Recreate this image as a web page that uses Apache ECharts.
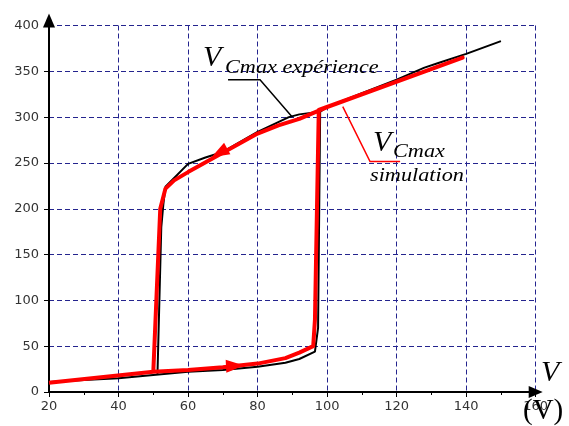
<!DOCTYPE html>
<html>
<head>
<meta charset="utf-8">
<script src="https://cdn.jsdelivr.net/npm/echarts@6/dist/echarts.min.js"></script>
<style>html,body{margin:0;padding:0;background:#fff}#id1{width:569px;height:426px}</style>
</head>
<body>
<div id="id1"></div>
<script>
// experience (black) : montee puis saut, et branche haute
var expLowV = [20, 30, 40, 50, 60, 70, 80, 88, 92, 96.5, 97.4, 98];
var expLowY = [11, 13, 15, 18.5, 22, 24, 27.5, 32, 36, 44, 70, 306];
var expUpV = [51.2, 52.3, 52.9, 53.5, 60, 65, 70, 80, 89, 92, 98, 100, 110, 120, 128, 132, 140, 150];
var expUpY = [19, 180, 205, 224, 249, 256, 262, 284, 300, 303, 306, 311, 326, 341, 354, 359, 369, 383];

// simulation (red), boucle complete dans l'ordre
var simV = [20, 50, 60, 70, 80, 88, 92, 96, 96.5, 97.6, 139, 100, 92, 86, 80, 70, 60, 56, 53.5, 52, 50];
var simY = [10, 22, 24, 27, 31, 37, 43, 50, 79, 308, 365, 311, 298, 291, 282, 261, 240, 231, 222, 200, 22];

// fleches sur la courbe simulee
var arrowV = [73.5, 69];
var arrowY = [28.5, 261];
var arrowRot = [-87, 119];

function pairs(a, b){
	var out = [];
	for (var i = 0; i < a.length; i++) out.push([a[i], b[i]]);
	return out;
}

var charts = echarts.init(document.getElementById('id1'));
var axisLbl = {fontFamily: 'DejaVu Sans', fontSize: 13, color: '#333'};
var split = {show: true, lineStyle: {color: '#24248e', type: [5, 3], width: 1}};

var option = {
	animation: false,
	grid: {left: 49, right: 33.3, top: 25.5, bottom: 34},
	xAxis: {
		type: 'value', min: 20, max: 160, interval: 20,
		axisLine: {show: true, symbol: ['none', 'triangle'], symbolSize: [12, 14], symbolOffset: [0, 0],
			lineStyle: {color: '#000', width: 2}},
		axisTick: {show: true, length: 5, lineStyle: {color: '#000'}},
		minorTick: {show: true, splitNumber: 2, length: 3, lineStyle: {color: '#000'}},
		axisLabel: Object.assign({margin: 8}, axisLbl),
		splitLine: split
	},
	yAxis: {
		type: 'value', min: 0, max: 400, interval: 50,
		axisLine: {show: true, symbol: ['none', 'triangle'], symbolSize: [12, 14], symbolOffset: [0, 5],
			lineStyle: {color: '#000', width: 2}},
		axisTick: {show: true, length: 5, lineStyle: {color: '#000'}},
		axisLabel: Object.assign({margin: 10}, axisLbl),
		splitLine: split
	},
	series: [
		{name: 'exp1', type: 'line', data: pairs(expLowV, expLowY), showSymbol: false,
			lineStyle: {color: '#000', width: 2}},
		{name: 'exp2', type: 'line', data: pairs(expUpV, expUpY), showSymbol: false,
			lineStyle: {color: '#000', width: 2}},
		{name: 'sim', type: 'line', data: pairs(simV, simY), showSymbol: false,
			lineStyle: {color: '#ff0000', width: 4, join: 'round'}},
		{name: 'fleches', type: 'scatter', symbol: 'triangle', symbolSize: [13, 18], z: 5,
			itemStyle: {color: '#ff0000', opacity: 1},
			data: arrowV.map(function (v, i) { return {value: [v, arrowY[i]], symbolRotate: arrowRot[i]}; })}
	]
};
charts.setOption(option);

// annotations, ancrees en coordonnees de donnees
function px(v, y){ return charts.convertToPixel({gridIndex: 0}, [v, y]); }
function txt(p, s, font, sx){
	return {type: 'text', x: p[0], y: p[1], scaleX: sx || 1, z: 100,
		style: {text: s, x: 0, y: 0, font: font, fill: '#000',
			align: 'left', verticalAlign: 'middle', textAlign: 'left', textVerticalAlign: 'middle'}};
}
var serifI = '"Liberation Serif", "Times New Roman", serif';
var g = [
	{type: 'polyline', z: 100, shape: {points: [px(71.5, 340.7), px(80.7, 340.7), px(89.9, 300.3)]},
		style: {stroke: '#000', lineWidth: 1.5, fill: null}},
	{type: 'polyline', z: 100, shape: {points: [px(104.5, 311.5), px(112.35, 251.5), px(121, 251.5)]},
		style: {stroke: '#ff0000', lineWidth: 1.5, fill: null}},
	txt([203, 57.8], 'V', 'italic 30px ' + serifI),
	txt([225, 67.5], 'Cmax expérience', 'italic 19px ' + serifI, 1.17),
	txt([373, 142.8], 'V', 'italic 30px ' + serifI),
	txt([393, 151.5], 'Cmax', 'italic 19px ' + serifI, 1.17),
	txt([370, 175.5], 'simulation', 'italic 19px ' + serifI, 1.17),
	txt([541, 372.8], 'V', 'italic 30px ' + serifI),
	txt([523, 411.8], '(V)', '29px ' + serifI)
];
charts.setOption({graphic: g});
</script>
</body>
</html>
